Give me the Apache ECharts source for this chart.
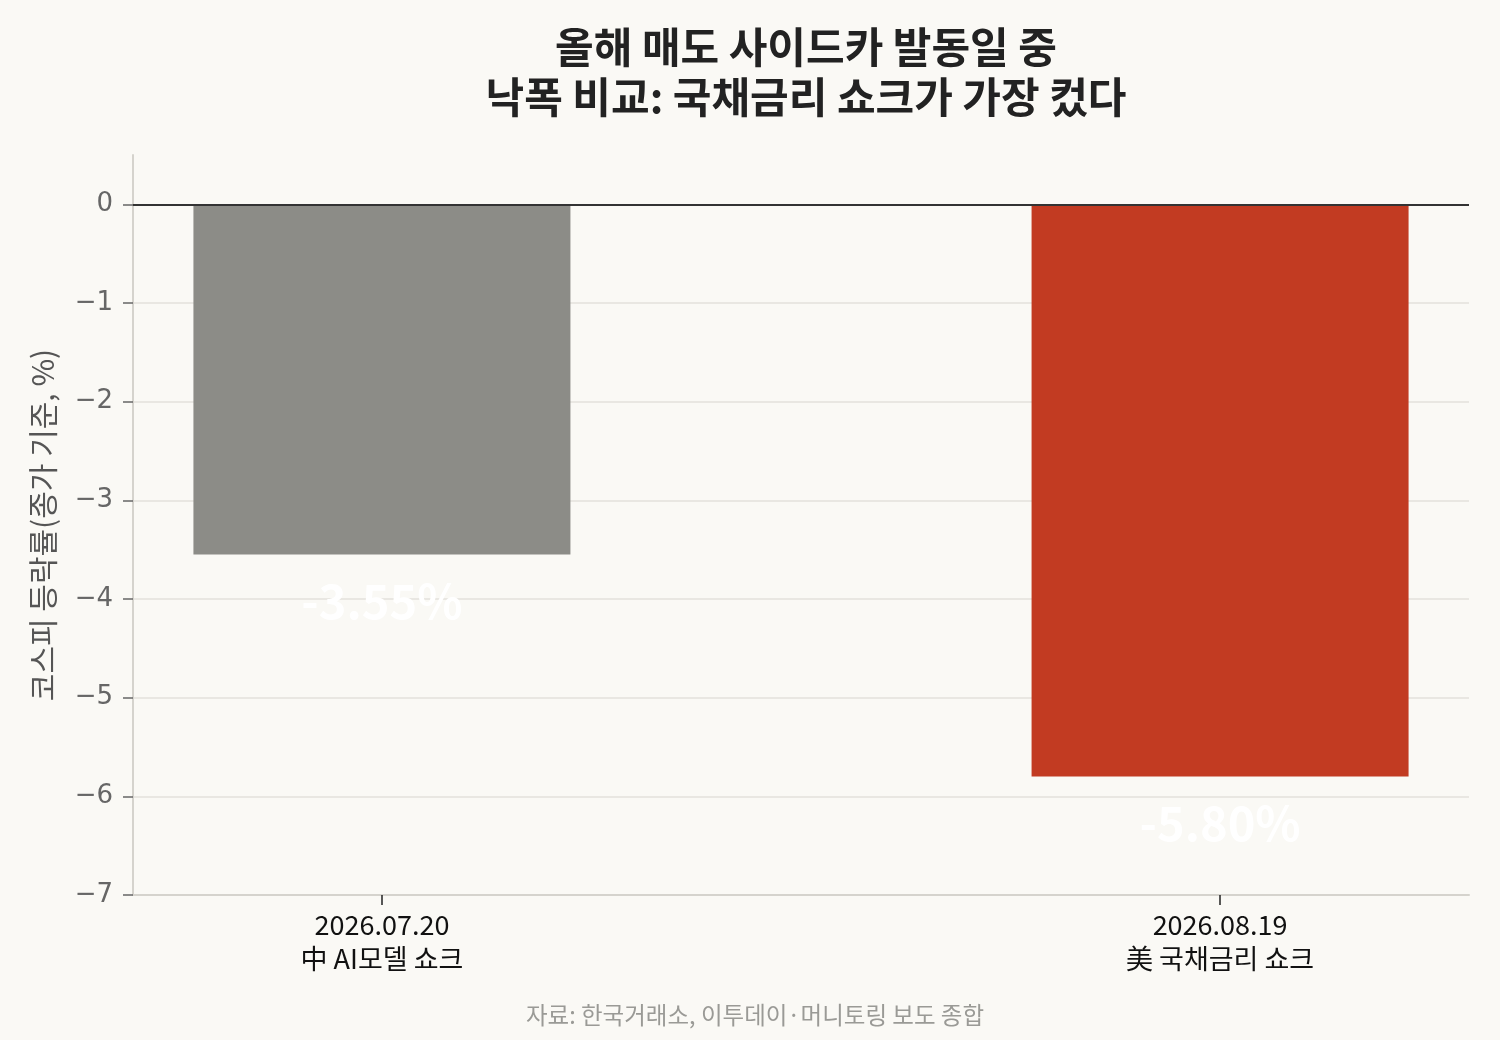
<!DOCTYPE html>
<html>
<head>
<meta charset="utf-8">
<style>
  html, body { margin: 0; padding: 0; background: #faf9f5; }
  #chart { width: 1500px; height: 1040px; }
</style>
<script src="https://cdn.jsdelivr.net/npm/echarts@6/dist/echarts.min.js"></script>
</head>
<body>
<div id="chart"></div>
<script>
// 데이터
var dates = ['2026.07.20', '2026.08.19'];
var events = ['中 AI모델 쇼크', '美 국채금리 쇼크'];
var changes = [-3.55, -5.80];
var barColors = ['#8c8c87', '#c23b22'];
var yTicks = [-7, -6, -5, -4, -3, -2, -1, 0];

var seriesData = [];
for (var i = 0; i < changes.length; i++) {
    seriesData.push({
        value: [i, changes[i]],
        itemStyle: { color: barColors[i] }
    });
}

var chart = echarts.init(document.getElementById('chart'));

chart.setOption({
    backgroundColor: '#faf9f5',
    animation: false,
    title: [{
        text: '올해 매도 사이드카 발동일 중\n낙폭 비교: 국채금리 쇼크가 가장 컸다',
        left: 801,
        top: 17,
        textAlign: 'center',
        textStyle: {
            fontFamily: 'Noto Sans CJK KR',
            fontSize: 42,
            fontWeight: 'bold',
            color: '#222',
            lineHeight: 50
        }
    }, {
        text: '자료: 한국거래소, 이투데이·머니토링 보도 종합',
        left: 750,
        top: 998,
        textAlign: 'center',
        textStyle: {
            fontFamily: 'Noto Sans CJK KR',
            fontSize: 23.5,
            fontWeight: 'normal',
            color: '#9a9a96'
        }
    }],
    grid: { left: 133, right: 31, top: 155, bottom: 145 },
    xAxis: {
        type: 'value',
        min: -0.297,
        max: 1.297,
        splitLine: { show: false },
        axisLine: { show: true, onZero: false, lineStyle: { color: '#d5d3cd', width: 2 } },
        axisTick: { show: true, customValues: [0, 1], length: 10, lineStyle: { color: '#222', width: 1.5 } },
        axisLabel: {
            customValues: [0, 1],
            margin: 13,
            fontFamily: 'Noto Sans CJK KR',
            fontSize: 27,
            lineHeight: 34,
            color: '#111',
            formatter: function (v) {
                var idx = Math.round(v);
                return dates[idx] + '\n' + events[idx];
            }
        }
    },
    yAxis: {
        type: 'value',
        min: -7,
        max: 0.5,
        interval: 1,
        name: '코스피 등락률(종가 기준, %)',
        nameLocation: 'middle',
        nameGap: 75,
        nameTextStyle: { fontFamily: 'Noto Sans CJK KR', fontSize: 30, color: '#555' },
        axisLine: { show: true, onZero: false, lineStyle: { color: '#d5d3cd', width: 2 } },
        axisTick: { show: true, customValues: yTicks, length: 10, lineStyle: { color: '#666', width: 1.5 } },
        axisLabel: {
            customValues: yTicks,
            margin: 20,
            fontFamily: 'DejaVu Sans',
            fontSize: 26,
            color: '#666',
            formatter: function (v) {
                return v < 0 ? '\u2212' + Math.abs(v) : String(v);
            }
        },
        splitLine: {
            show: true,
            showMaxLine: false,
            lineStyle: { color: '#e3e1db', width: 1.5 }
        }
    },
    series: [{
        type: 'bar',
        barWidth: 377,
        data: seriesData,
        label: {
            show: true,
            position: 'bottom',
            distance: 23,
            fontFamily: 'Noto Sans CJK KR',
            fontSize: 47,
            fontWeight: 'bold',
            color: '#ffffff',
            formatter: function (p) {
                return p.value[1].toFixed(2) + '%';
            }
        },
        markLine: {
            silent: true,
            symbol: 'none',
            label: { show: false },
            lineStyle: { color: '#333', width: 2, type: 'solid' },
            data: [{ yAxis: 0 }]
        }
    }]
});
</script>
</body>
</html>
